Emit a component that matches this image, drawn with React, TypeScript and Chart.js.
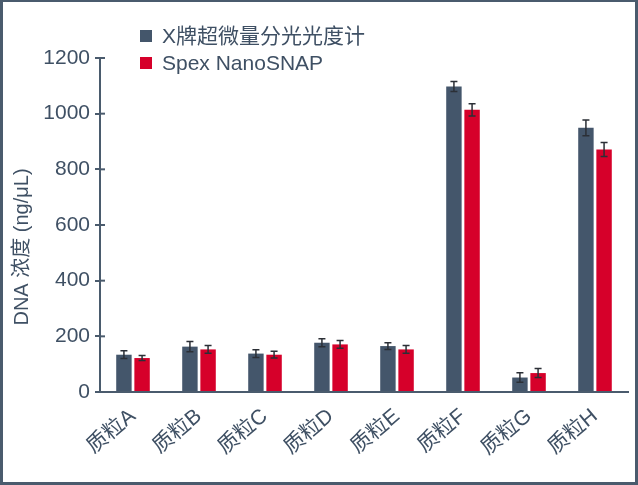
import { useEffect, useRef } from "react";
import { Chart, registerables } from "chart.js";

Chart.register(...registerables);

const categories = ["质粒A", "质粒B", "质粒C", "质粒D", "质粒E", "质粒F", "质粒G", "质粒H"];
const seriesNames = ["X牌超微量分光光度计", "Spex NanoSNAP"];
const seriesX = [134, 163, 138, 177, 165, 1098, 52, 949];
const seriesSpex = [122, 153, 134, 171, 153, 1014, 68, 871];
const errX = [14, 18, 14, 14, 12, 18, 17, 28];
const errSpex = [9, 14, 12, 14, 14, 22, 16, 25];
const yTickValues = [0, 200, 400, 600, 800, 1000, 1200];
const yTitle = "DNA 浓度 (ng/μL)";

const DARK = "#44566b";
const RED = "#d6002a";
const AXIS = "#4a5b6d";
const TEXT = "#3f5064";
const FONT = '"Liberation Sans", Arial, "Noto Sans CJK SC", sans-serif';

const errorBarPlugin = {
  id: "errorBars",
  afterDatasetsDraw(chart: any) {
    const ctx = chart.ctx;
    const y = chart.scales.y;
    chart.data.datasets.forEach((ds: any, di: number) => {
      const meta = chart.getDatasetMeta(di);
      meta.data.forEach((bar: any, i: number) => {
        const v = ds.data[i];
        const e = ds.errors[i];
        const yt = y.getPixelForValue(v + e);
        const yb = y.getPixelForValue(v - e);
        ctx.save();
        ctx.strokeStyle = "#2b2f36";
        ctx.lineWidth = 1.5;
        ctx.beginPath();
        ctx.moveTo(bar.x, yt);
        ctx.lineTo(bar.x, yb);
        ctx.moveTo(bar.x - 3.5, yt);
        ctx.lineTo(bar.x + 3.5, yt);
        ctx.moveTo(bar.x - 3.5, yb);
        ctx.lineTo(bar.x + 3.5, yb);
        ctx.stroke();
        ctx.restore();
      });
    });
  },
};

const decorPlugin = {
  id: "decor",
  afterDraw(chart: any) {
    const ctx = chart.ctx;
    const y = chart.scales.y;
    const left = chart.chartArea.left;
    ctx.save();
    ctx.strokeStyle = AXIS;
    ctx.lineWidth = 2;
    yTickValues.forEach((v) => {
      const py = y.getPixelForValue(v);
      ctx.beginPath();
      ctx.moveTo(left, py);
      ctx.lineTo(left + 5, py);
      ctx.stroke();
    });
    ctx.font = `21px ${FONT}`;
    ctx.textBaseline = "middle";
    ctx.textAlign = "left";
    chart.data.datasets.forEach((ds: any, i: number) => {
      const top = 28 + i * 27;
      ctx.fillStyle = ds.backgroundColor;
      ctx.fillRect(137, top, 12, 12);
      ctx.fillStyle = TEXT;
      ctx.fillText(ds.label, 159, top + 7);
    });
    ctx.translate(19, 245);
    ctx.rotate(-Math.PI / 2);
    ctx.textAlign = "center";
    ctx.font = `20px ${FONT}`;
    ctx.fillStyle = TEXT;
    ctx.fillText(yTitle, 0, 0);
    ctx.restore();
  },
};

export default function App() {
  const ref = useRef<HTMLCanvasElement>(null);
  useEffect(() => {
    if (!ref.current) return;
    const chart = new Chart(ref.current, {
      type: "bar",
      data: {
        labels: categories,
        datasets: [
          { label: seriesNames[0], data: seriesX, backgroundColor: DARK, errors: errX } as any,
          { label: seriesNames[1], data: seriesSpex, backgroundColor: RED, errors: errSpex } as any,
        ],
      },
      options: {
        animation: false,
        responsive: true,
        maintainAspectRatio: false,
        layout: { padding: { top: 56, right: 7, left: 0, bottom: 0 } },
        datasets: { bar: { categoryPercentage: 0.55, barPercentage: 0.85 } },
        plugins: { legend: { display: false }, tooltip: { enabled: false } },
        scales: {
          x: {
            grid: { display: false },
            border: { display: true, color: AXIS, width: 2 },
            ticks: {
              color: TEXT,
              font: { size: 21, family: FONT },
              minRotation: 40,
              maxRotation: 40,
              padding: 4,
            },
            afterFit: (s: any) => {
              s.height = 90;
            },
          },
          y: {
            min: 0,
            max: 1200,
            grid: { display: true, drawOnChartArea: false, drawTicks: true, tickLength: 5, color: AXIS, lineWidth: 2 },
            border: { display: true, color: AXIS, width: 2 },
            ticks: {
              stepSize: 200,
              color: TEXT,
              font: { size: 21, family: FONT },
              padding: 5,
              callback: (v: any) => String(v),
            },
            afterFit: (s: any) => {
              s.width = 97;
            },
          },
        },
      },
      plugins: [errorBarPlugin, decorPlugin],
    });
    return () => chart.destroy();
  }, []);
  return (
    <div
      style={{
        position: "absolute",
        left: 0,
        top: 0,
        width: 638,
        height: 485,
        boxSizing: "border-box",
        borderStyle: "solid",
        borderColor: AXIS,
        borderWidth: "2px 3px 3px 3px",
        background: "#fff",
      }}
    >
      <div style={{ position: "relative", width: "100%", height: "100%" }}>
        <canvas ref={ref} />
      </div>
    </div>
  );
}
